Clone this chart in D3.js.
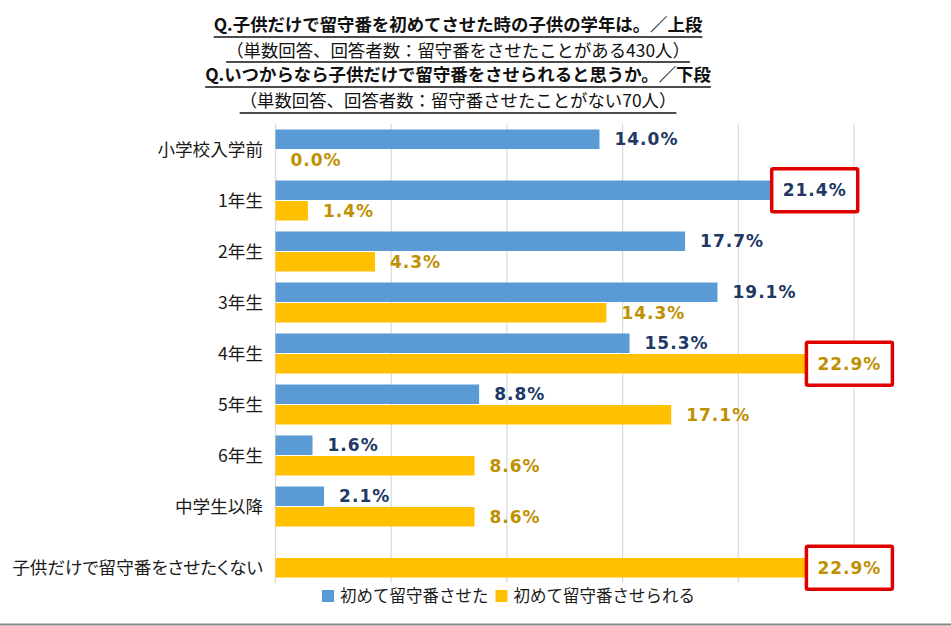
<!DOCTYPE html>
<html><head><meta charset="utf-8">
<script src="https://cdn.jsdelivr.net/npm/d3@7"></script>
<style>
body{margin:0;background:#fff;}
svg{display:block;}
</style></head>
<body><svg id="c" width="951" height="626"></svg>
<script>
const titleLines = [
  {text:"Q.子供だけで留守番を初めてさせた時の子供の学年は。／上段", bold:true},
  {text:"（単数回答、回答者数：留守番をさせたことがある430人）", bold:false},
  {text:"Q.いつからなら子供だけで留守番をさせられると思うか。／下段", bold:true},
  {text:"（単数回答、回答者数：留守番させたことがない70人）", bold:false}
];
const categories = ["小学校入学前","1年生","2年生","3年生","4年生","5年生","6年生","中学生以降","子供だけで留守番をさせたくない"];
const seriesNames = ["初めて留守番させた","初めて留守番させられる"];
const firstTime = [14.0,21.4,17.7,19.1,15.3,8.8,1.6,2.1,null];
const possible = [0.0,1.4,4.3,14.3,22.9,17.1,8.6,8.6,22.9];
const xTicks = [0,5,10,15,20,25];
const highlights = [{cat:"1年生", s:0},{cat:"4年生", s:1},{cat:"子供だけで留守番をさせたくない", s:1}];

const colors = ["#5b9bd5","#ffc000"];
const labelColors = ["#203864","#bf9000"];
const jp = "'Noto Sans CJK JP','Noto Sans',sans-serif";
const numFont = "Verdana,'DejaVu Sans',sans-serif";

const svg = d3.select("#c");
svg.append("rect").attr("width",951).attr("height",626).attr("fill","#fff");

// title
const tY = [31, 57, 81, 107];
const uY = [37, 62, 87, 113];
titleLines.forEach((t,i)=>{
  const tx = svg.append("text").attr("x",458).attr("y",tY[i]).attr("text-anchor","middle")
    .attr("font-family",jp).attr("font-size",17.4).attr("font-weight",t.bold?700:400)
    .attr("fill","#111").text(t.text);
  const w = tx.node().getComputedTextLength();
  svg.append("line").attr("x1",458-w/2).attr("x2",458+w/2).attr("y1",uY[i]).attr("y2",uY[i])
    .attr("stroke","#111").attr("stroke-width",1.5);
});

const x = d3.scaleLinear().domain([0,25]).range([275.5,854]);
const y = d3.scaleBand().domain(categories).range([124,583]).paddingInner(11/51).paddingOuter(5.5/51);
const ys = d3.scaleBand().domain([0,1]).range([0,y.bandwidth()]).paddingInner(0.05);

// gridlines
svg.append("g").selectAll("line").data(xTicks).join("line")
  .attr("x1",d=>x(d)).attr("x2",d=>x(d)).attr("y1",124).attr("y2",583)
  .attr("stroke","#d9d9d9").attr("stroke-width",1.2);

const rows = categories.map((c,i)=>({c, v:[firstTime[i], possible[i]]}));

// bars
const g = svg.append("g");
rows.forEach(r=>{
  r.v.forEach((v,s)=>{
    if(v===null) return;
    g.append("rect").attr("x",x(0)).attr("y",y(r.c)+ys(s))
      .attr("width",x(v)-x(0)).attr("height",ys.bandwidth()).attr("fill",colors[s]);
  });
});

// value labels
rows.forEach(r=>{
  r.v.forEach((v,s)=>{
    if(v===null) return;
    const hl = highlights.some(h=>h.cat===r.c && h.s===s);
    const cy = y(r.c)+ys(s)+ys.bandwidth()/2;
    if(hl){
      const bx = x(v)+1, bw = 86, bh = 43;
      svg.append("rect").attr("x",bx).attr("y",cy-bh/2).attr("width",bw).attr("height",bh)
        .attr("fill","#fff").attr("stroke","#e00000").attr("stroke-width",3.5).attr("rx",1.5);
      svg.append("text").attr("x",bx+bw/2).attr("y",cy).attr("dy","0.36em").attr("text-anchor","middle")
        .attr("font-family",numFont).attr("font-weight",700).attr("font-size",17).attr("letter-spacing",1)
        .attr("fill",labelColors[s]).text(v.toFixed(1)+"%");
    } else {
      svg.append("text").attr("x",x(v)+15).attr("y",cy).attr("dy","0.36em")
        .attr("font-family",numFont).attr("font-weight",700).attr("font-size",17).attr("letter-spacing",1)
        .attr("fill",labelColors[s]).text(v.toFixed(1)+"%");
    }
  });
});

// category labels
rows.forEach(r=>{
  const present = r.v.map((v,s)=>v===null?null:s).filter(s=>s!==null);
  let cy;
  if(present.length===2) cy = y(r.c)+y.bandwidth()/2;
  else cy = y(r.c)+ys(present[0])+ys.bandwidth()/2;
  svg.append("text").attr("x",263).attr("y",cy).attr("dy","0.35em").attr("text-anchor","end")
    .attr("font-family",jp).attr("font-size",17.6).attr("fill","#1a1a1a")
    .style("font-feature-settings","'palt'").text(r.c);
});

// legend
let lx = 322;
seriesNames.forEach((n,s)=>{
  svg.append("rect").attr("x",lx).attr("y",590).attr("width",12).attr("height",12).attr("fill",colors[s]);
  const t = svg.append("text").attr("x",lx+18).attr("y",596).attr("dy","0.35em")
    .attr("font-family",jp).attr("font-size",16.5).attr("fill","#1a1a1a").text(n);
  lx += 18 + t.node().getComputedTextLength() + 7;
});

// bottom border
svg.append("rect").attr("x",0).attr("y",623.5).attr("width",951).attr("height",2).attr("fill","#8a8a8a");
</script></body></html>
